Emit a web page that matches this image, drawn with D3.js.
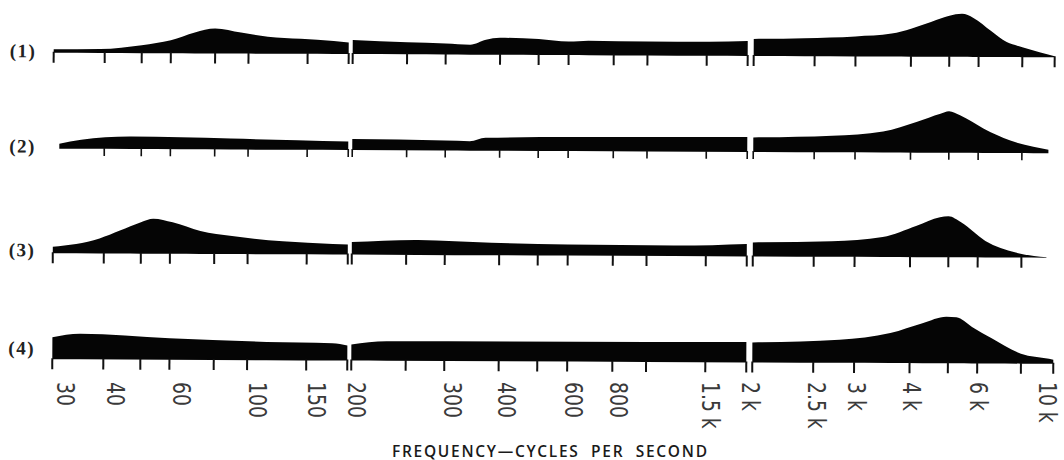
<!DOCTYPE html>
<html>
<head>
<meta charset="utf-8">
<script src="https://cdn.jsdelivr.net/npm/d3@7"></script>
<style>
  body { margin: 0; background: #fff; }
</style>
</head>
<body>
<div id="chart"></div>
<script>
// frequency axis is three separately drawn bands (Hz)
var bandLow = [30, 200],
    bandMid = [200, 2000],
    bandHigh = [2000, 10000];

var ticksLow = [30, 40, 50, 60, 80, 100, 150, 200];
var ticksMid = [200, 250, 300, 400, 500, 600, 800, 1000, 1500, 2000];
var ticksHigh = [2000, 2500, 3000, 4000, 5000, 6000, 8000, 10000];

var labelFreqs = [30, 40, 60, 100, 150, 200, 300, 400, 600, 800, 1500, 2000, 2500, 3000, 4000, 6000, 10000];
var labelTexts = ["30", "40", "60", "100", "150", "200", "300", "400", "600", "800",
                  "1.5 k", "2 k", "2.5 k", "3 k", "4 k", "6 k", "10 k"];

var rowNames = ["(1)", "(2)", "(3)", "(4)"];

// [frequency, level]; a frequency given twice sits on a band break
var row1 = [[30, 3.5], [39, 4], [50, 8], [60, 13], [70, 21], [80, 25], [95, 21], [114, 17], [143, 15], [180, 13], [200, 11.5],
            [200, 14], [250, 12], [300, 11], [340, 10], [370, 15], [400, 17], [500, 16], [600, 13.5], [680, 14.5], [1000, 14], [1500, 14], [2000, 15],
            [2000, 17], [2400, 18], [3000, 20], [3600, 23], [4000, 28], [4500, 35], [5000, 41], [5400, 43], [5800, 39], [6500, 26], [7200, 15], [8000, 10], [9000, 5], [10000, 1]];

var row2 = [[31, 5], [35, 9], [47, 12.5], [64, 12], [89, 11], [140, 9.5], [200, 8.5],
            [200, 11], [300, 10], [340, 9.5], [370, 13], [620, 14], [1000, 14.5], [2000, 15],
            [2000, 14.5], [2700, 16.5], [3450, 21], [4150, 31], [4750, 39], [5000, 41.5], [5350, 37.5], [6200, 24.5], [7400, 12.5], [8650, 6.5], [9600, 3.5]];

var row3 = [[30, 6.5], [39, 15], [44, 23], [50, 31.5], [54, 35], [61, 31.5], [73, 23], [90, 18], [127, 13], [180, 10.5], [200, 10],
            [200, 12.5], [264, 15], [383, 12.5], [600, 11], [1200, 10.5], [2000, 12.5],
            [2000, 14], [2700, 15.5], [3450, 20], [4150, 31.5], [4750, 40], [5000, 41], [5400, 35], [6300, 16.5], [7700, 5], [9500, 0.5]];

var row4 = [[30, 22], [35, 25.5], [60, 21.5], [114, 18.3], [180, 17.3], [200, 15],
            [200, 16], [230, 19.5], [1000, 20], [2000, 20.5],
            [2000, 20], [2800, 23], [3600, 30], [4300, 40], [4950, 46.5], [5260, 46], [5800, 36.5], [6600, 25], [8000, 10], [9700, 5], [10000, 4]];

var width = 1064, height = 460;

var svg = d3.select("#chart")
    .append("svg")
    .attr("width", width)
    .attr("height", height);

// each band: log scale of (f - shift), the shift stretches the low end like the paper does
var bands = [
    {dom: bandLow, ticks: ticksLow, shift: 8, px: [53, 348]},
    {dom: bandMid, ticks: ticksMid, shift: 100, px: [352, 747]},
    {dom: bandHigh, ticks: ticksHigh, shift: 1200, px: [753, 1054]}
];
bands.forEach(function(b){
    b.scale = d3.scaleLog()
        .domain([b.dom[0] - b.shift, b.dom[1] - b.shift])
        .range(b.px);
    b.x = function(f){ return b.scale(f - b.shift); };
});

function bandPoints(pts, b){
    var inside = pts.filter(function(p){ return p[0] >= b.dom[0] && p[0] <= b.dom[1]; });
    return inside.filter(function(p, i){
        var prev = inside[i - 1], next = inside[i + 1];
        if (p[0] === b.dom[0] && next && next[0] === p[0]) return false;
        if (p[0] === b.dom[1] && prev && prev[0] === p[0]) return false;
        return true;
    });
}

var rows = [
    {name: rowNames[0], data: row1, base: 55, tick: 10, tw: 2},
    {name: rowNames[1], data: row2, base: 151, tick: 7, tw: 1.6},
    {name: rowNames[2], data: row3, base: 255.5, tick: 10, tw: 2},
    {name: rowNames[3], data: row4, base: 361.5, tick: 10, tw: 2}
];

// the scan is turned a hair clockwise
var plot = svg.append("g")
    .attr("transform", "rotate(0.26, 550, 205)");

rows.forEach(function(r){
    var y = d3.scaleLinear().domain([0, 50]).range([r.base, r.base - 50]);
    var g = plot.append("g").attr("class", "row");

    bands.forEach(function(b){
        var pts = bandPoints(r.data, b);
        if (!pts.length) return;

        var area = d3.area()
            .x(function(d){ return b.x(d[0]); })
            .y0(r.base)
            .y1(function(d){ return y(d[1]); })
            .curve(d3.curveMonotoneX);

        g.append("path")
            .datum(pts)
            .attr("d", area)
            .attr("fill", "#050505");

        var f0 = pts[0][0], f1 = pts[pts.length - 1][0];
        g.selectAll(null)
            .data(b.ticks.filter(function(t){ return t >= f0 && t <= f1; }))
            .enter().append("line")
            .attr("x1", function(t){ return b.x(t); })
            .attr("x2", function(t){ return b.x(t); })
            .attr("y1", r.base - 1)
            .attr("y2", r.base + r.tick)
            .attr("stroke", "#111")
            .attr("stroke-width", r.tw);
    });

    g.append("text")
        .attr("x", 9)
        .attr("y", y(r.data[0][1] / 2))
        .attr("dominant-baseline", "central")
        .attr("font-family", "'Liberation Serif', 'DejaVu Serif', serif")
        .attr("font-weight", "bold")
        .attr("font-size", 19)
        .attr("letter-spacing", 1.5)
        .attr("fill", "#222")
        .text(r.name);
});

// rotated frequency labels under the last row
function bandOf(f){
    return bands.filter(function(b){ return f >= b.dom[0] && f <= b.dom[1]; })[0];
}
var labelTop = 382;
svg.append("g")
    .selectAll("text")
    .data(labelFreqs)
    .enter().append("text")
    .attr("transform", function(f){
        var x = bandOf(f).x(f);
        var xb = Math.min(x + 4 - 0.013 * (x - 53), width - 25);
        // glyphs in the print are taller than they are wide
        return "translate(" + xb + "," + labelTop + ") rotate(90) scale(0.95, 1.12)";
    })
    .attr("font-family", "'DejaVu Sans Condensed', 'Liberation Sans Narrow', sans-serif")
    .attr("font-size", 22)
    .attr("fill", "#3a3a3a")
    .style("white-space", "pre")
    .text(function(f, i){ return labelTexts[i]; });

svg.append("text")
    .attr("x", 549.5)
    .attr("y", 456.5)
    .attr("text-anchor", "middle")
    .attr("font-family", "'Open Sans', Lato, sans-serif")
    .attr("font-size", 15.5)
    .attr("font-weight", 600)
    .attr("fill", "#1a1a1a")
    .attr("textLength", 315)
    .attr("lengthAdjust", "spacing")
    .style("white-space", "pre")
    .text("FREQUENCY\u2014CYCLES  PER  SECOND");
</script>
</body>
</html>
